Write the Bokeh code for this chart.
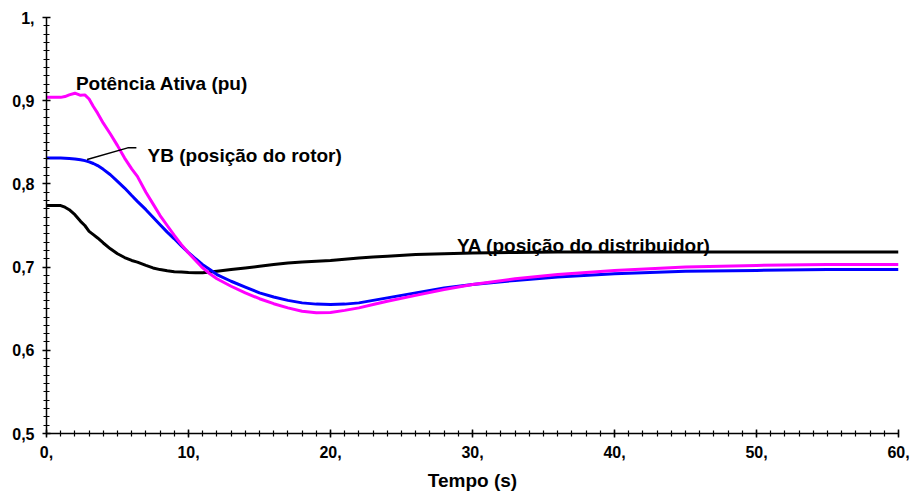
from bokeh.plotting import figure
from bokeh.models import Range1d, FixedTicker, Label
from bokeh.embed import file_html
from bokeh.resources import INLINE

# ---- data ----
time_s = [0, 0.5, 1, 1.3, 1.6, 2, 2.4, 2.7, 3, 3.3, 3.6, 4, 4.5, 5, 5.5, 6, 6.4, 7, 7.5,
          8, 8.5, 9, 9.5, 10, 10.5, 11, 11.5, 12, 13, 14, 15, 16, 17, 18, 19, 20, 21,
          22, 23, 24, 26, 28, 30, 33, 36, 40, 45, 50, 55, 60]
potencia_ativa = [0.904, 0.904, 0.904, 0.905, 0.907, 0.909, 0.9065, 0.907, 0.902, 0.893,
                  0.885, 0.873, 0.860, 0.846, 0.831, 0.818, 0.809, 0.790, 0.776, 0.762,
                  0.750, 0.738, 0.727, 0.717, 0.708, 0.699, 0.692, 0.686, 0.677, 0.669,
                  0.662, 0.656, 0.651, 0.647, 0.645, 0.6455, 0.648, 0.651, 0.655, 0.659,
                  0.666, 0.673, 0.679, 0.686, 0.691, 0.696, 0.700, 0.702, 0.703, 0.703]
yb_rotor = [0.831, 0.831, 0.831, 0.8308, 0.8305, 0.830, 0.829, 0.828, 0.8265, 0.8245,
            0.822, 0.8175, 0.811, 0.803, 0.795, 0.786, 0.779, 0.769, 0.760, 0.751,
            0.742, 0.734, 0.7255, 0.7175, 0.710, 0.703, 0.697, 0.691, 0.683, 0.676,
            0.669, 0.664, 0.660, 0.657, 0.6555, 0.655, 0.6555, 0.657, 0.660, 0.663,
            0.669, 0.675, 0.679, 0.684, 0.688, 0.692, 0.695, 0.696, 0.697, 0.697]
ya_distribuidor = [0.774, 0.774, 0.774, 0.772, 0.769, 0.763, 0.755, 0.750, 0.743, 0.739,
                   0.735, 0.729, 0.722, 0.716, 0.7115, 0.708, 0.706, 0.702, 0.699, 0.697,
                   0.6955, 0.6945, 0.694, 0.6935, 0.6932, 0.6933, 0.694, 0.695, 0.697, 0.699,
                   0.701, 0.703, 0.705, 0.706, 0.707, 0.708, 0.7095, 0.711, 0.712, 0.713,
                   0.715, 0.716, 0.717, 0.7175, 0.718, 0.718, 0.718, 0.718, 0.718, 0.718]

x_ticks = [0, 10, 20, 30, 40, 50, 60]
x_tick_labels = ["0,", "10,", "20,", "30,", "40,", "50,", "60,"]
y_ticks = [0.5, 0.6, 0.7, 0.8, 0.9, 1.0]
y_tick_labels = ["0,5", "0,6", "0,7", "0,8", "0,9", "1,"]

FONT = "Liberation Sans"

p = figure(width=911, height=494, output_backend="svg", toolbar_location=None,
           x_range=Range1d(0, 60), y_range=Range1d(0.5, 1.0),
           min_border_left=46, min_border_right=13, min_border_top=17,
           min_border_bottom=61)
# outline kept (stroked) but white, so it is invisible; axes are drawn over it
p.outline_line_color = "white"
p.xgrid.grid_line_color = None
p.ygrid.grid_line_color = None

x_minor = [float(i) for i in range(0, 61)]
y_minor = [round(0.5 + 0.01 * i, 2) for i in range(0, 51)]
p.xaxis.ticker = FixedTicker(ticks=[float(t) for t in x_ticks], minor_ticks=x_minor)
p.yaxis.ticker = FixedTicker(ticks=y_ticks, minor_ticks=y_minor)
p.xaxis.major_label_overrides = {t: l for t, l in zip(x_ticks, x_tick_labels)}
p.yaxis.major_label_overrides = {t: l for t, l in zip(y_ticks, y_tick_labels)}

p.axis.axis_line_color = "black"
p.axis.axis_line_width = 1.5
p.axis.major_tick_line_color = "black"
p.axis.major_tick_line_width = 1.5
p.axis.minor_tick_line_color = "black"
p.axis.minor_tick_line_width = 1.2
p.axis.major_tick_in = 4
p.axis.major_tick_out = 4
p.axis.minor_tick_in = 3
p.axis.minor_tick_out = 3
p.axis.major_label_text_font = FONT
p.axis.major_label_text_font_style = "bold"
p.axis.major_label_text_font_size = "16px"
p.axis.major_label_text_color = "black"

p.yaxis.major_label_standoff = 8
p.xaxis.major_label_standoff = 8
p.xaxis.axis_label = "Tempo (s)"
p.xaxis.axis_label_text_font = FONT
p.xaxis.axis_label_text_font_style = "bold"
p.xaxis.axis_label_text_font_size = "19px"
p.xaxis.axis_label_text_color = "black"
p.xaxis.axis_label_standoff = 9

p.line(time_s, ya_distribuidor, line_color="black", line_width=3)
p.line(time_s, yb_rotor, line_color="#0000FF", line_width=3)
p.line(time_s, potencia_ativa, line_color="#FF00FF", line_width=3)

# leader line for the YB label
p.line([6.33, 5.72, 2.86], [0.8433, 0.8433, 0.8293], line_color="black", line_width=1.5)

lbl = dict(text_font=FONT, text_font_style="bold", text_font_size="19px",
           text_color="black", text_baseline="alphabetic")
p.add_layout(Label(x=2.07, y=0.921, text="Potência Ativa (pu)", **lbl))
p.add_layout(Label(x=7.12, y=0.834, text="YB (posição do rotor)", **lbl))
p.add_layout(Label(x=28.9, y=0.726, text="YA (posição do distribuidor)", **lbl))

open("out.html", "w").write(file_html(p, INLINE))
